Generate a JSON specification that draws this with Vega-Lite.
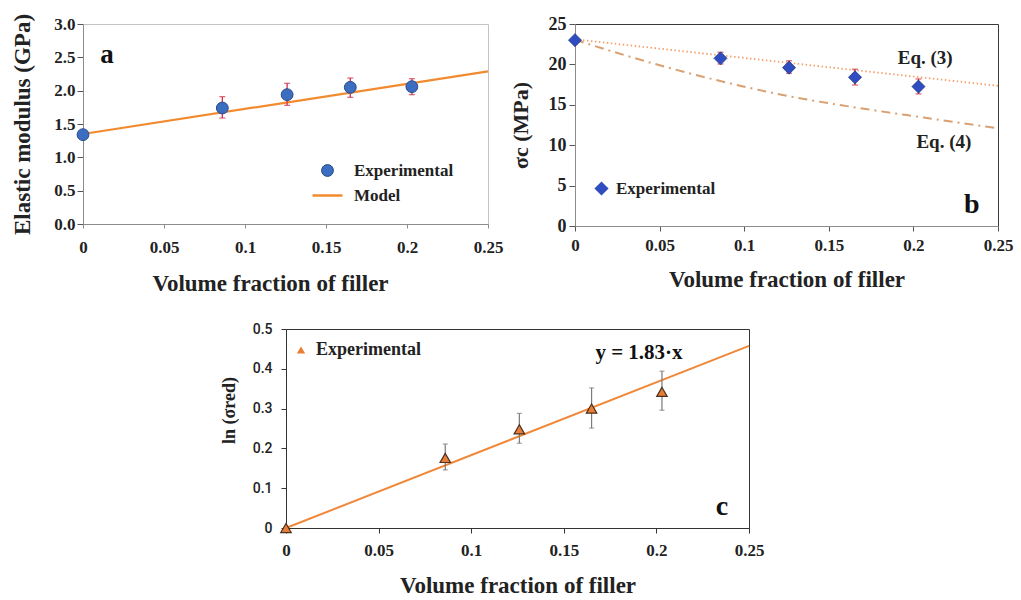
{
  "$schema": "https://vega.github.io/schema/vega-lite/v6.json",
  "background": "white",
  "padding": {"left": 11, "top": 10, "right": 0, "bottom": 0},
  "config": {
    "font": "Liberation Serif",
    "axis": {"grid": false, "labelFont": "Liberation Serif", "labelFontWeight": "bold", "labelColor": "#222", "titleFont": "Liberation Serif", "titleFontWeight": "bold", "titleColor": "#222", "labelFlush": false, "labelOverlap": false, "labelBound": false},
    "legend": {"labelFont": "Liberation Serif", "labelFontWeight": "bold", "labelColor": "#222", "title": null}
  },
  "spacing": 305,
  "bounds": "flush",
  "resolve": {
    "scale": {"shape": "independent", "fill": "independent", "stroke": "independent", "size": "independent", "strokeWidth": "independent", "color": "independent"},
    "legend": {"shape": "independent", "fill": "independent", "stroke": "independent", "size": "independent", "strokeWidth": "independent", "color": "independent"}
  },
  "vconcat": [
    {
      "spacing": 87,
      "bounds": "flush",
      "resolve": {
        "scale": {"shape": "independent", "fill": "independent", "stroke": "independent", "size": "independent", "strokeWidth": "independent", "color": "independent"},
        "legend": {"shape": "independent", "fill": "independent", "stroke": "independent", "size": "independent", "strokeWidth": "independent", "color": "independent"}
      },
      "hconcat": [
        {
          "width": 405,
          "height": 200,
          "view": {"stroke": "#c4c4c4"},
          "layer": [
            {
              "data": {"values": [{"x": 0, "y": 1.35}, {"x": 0.25, "y": 2.29}]},
              "mark": {"type": "line", "color": "#f28a30", "strokeWidth": 2.2},
              "encoding": {
                "x": {"field": "x", "type": "quantitative", "scale": {"domain": [0, 0.25], "nice": false},
                  "axis": {"title": "Volume fraction of filler", "titleX": 187, "values": [0, 0.05, 0.1, 0.15, 0.2, 0.25], "format": "~g", "domainColor": "#8c8c8c", "tickColor": "#8c8c8c", "tickSize": 4, "labelFontSize": 17, "labelPadding": 11, "titleFontSize": 23, "titlePadding": 17}},
                "y": {"field": "y", "type": "quantitative", "scale": {"domain": [0, 3], "nice": false},
                  "axis": {"title": "Elastic  modulus (GPa)", "values": [0, 0.5, 1, 1.5, 2, 2.5, 3], "format": ".1f", "domainColor": "#8c8c8c", "tickColor": "#555", "tickSize": 6, "labelFontSize": 17, "labelPadding": 2, "titleFontSize": 23, "titlePadding": 19}}
              }
            },
            {
              "data": {"values": [
                {"x": 0, "lo": 1.30, "hi": 1.38},
                {"x": 0.086, "lo": 1.59, "hi": 1.91},
                {"x": 0.126, "lo": 1.78, "hi": 2.11},
                {"x": 0.165, "lo": 1.90, "hi": 2.19},
                {"x": 0.203, "lo": 1.94, "hi": 2.18}
              ]},
              "mark": {"type": "errorbar", "ticks": {"size": 6}, "color": "#d0304a", "thickness": 1.3},
              "encoding": {
                "x": {"field": "x", "type": "quantitative",
                  "axis": {"title": "Volume fraction of filler", "titleX": 187, "values": [0, 0.05, 0.1, 0.15, 0.2, 0.25], "format": "~g", "domainColor": "#8c8c8c", "tickColor": "#8c8c8c", "tickSize": 4, "labelFontSize": 17, "labelPadding": 11, "titleFontSize": 23, "titlePadding": 17}},
                "y": {"field": "lo", "type": "quantitative",
                  "axis": {"title": "Elastic  modulus (GPa)", "values": [0, 0.5, 1, 1.5, 2, 2.5, 3], "format": ".1f", "domainColor": "#8c8c8c", "tickColor": "#555", "tickSize": 6, "labelFontSize": 17, "labelPadding": 2, "titleFontSize": 23, "titlePadding": 19}},
                "y2": {"field": "hi"}
              }
            },
            {
              "data": {"values": [
                {"x": 0, "y": 1.34, "series": "Experimental"},
                {"x": 0.086, "y": 1.74, "series": "Experimental"},
                {"x": 0.126, "y": 1.94, "series": "Experimental"},
                {"x": 0.165, "y": 2.05, "series": "Experimental"},
                {"x": 0.203, "y": 2.06, "series": "Experimental"}
              ]},
              "mark": {"type": "point", "filled": true, "opacity": 1},
              "encoding": {
                "x": {"field": "x", "type": "quantitative",
                  "axis": {"title": "Volume fraction of filler", "titleX": 187, "values": [0, 0.05, 0.1, 0.15, 0.2, 0.25], "format": "~g", "domainColor": "#8c8c8c", "tickColor": "#8c8c8c", "tickSize": 4, "labelFontSize": 17, "labelPadding": 11, "titleFontSize": 23, "titlePadding": 17}},
                "y": {"field": "y", "type": "quantitative",
                  "axis": {"title": "Elastic  modulus (GPa)", "values": [0, 0.5, 1, 1.5, 2, 2.5, 3], "format": ".1f", "domainColor": "#8c8c8c", "tickColor": "#555", "tickSize": 6, "labelFontSize": 17, "labelPadding": 2, "titleFontSize": 23, "titlePadding": 19}},
                "shape": {"field": "series", "type": "nominal",
                  "scale": {"domain": ["Experimental", "Model"], "range": ["circle", "stroke"]},
                  "legend": {"orient": "none", "legendX": 228, "legendY": 138, "labelFontSize": 17, "rowPadding": 0, "labelOffset": 10}},
                "fill": {"field": "series", "type": "nominal",
                  "scale": {"domain": ["Experimental", "Model"], "range": ["#3b6dc0", "#f28a30"]},
                  "legend": {"orient": "none", "legendX": 228, "legendY": 138, "labelFontSize": 17, "rowPadding": 0, "labelOffset": 10}},
                "stroke": {"field": "series", "type": "nominal",
                  "scale": {"domain": ["Experimental", "Model"], "range": ["#2b4a8a", "#f28a30"]},
                  "legend": {"orient": "none", "legendX": 228, "legendY": 138, "labelFontSize": 17, "rowPadding": 0, "labelOffset": 10}},
                "size": {"field": "series", "type": "ordinal",
                  "scale": {"domain": ["Experimental", "Model"], "range": [140, 900]},
                  "legend": {"orient": "none", "legendX": 228, "legendY": 138, "labelFontSize": 17, "rowPadding": 0, "labelOffset": 10}},
                "strokeWidth": {"field": "series", "type": "ordinal",
                  "scale": {"domain": ["Experimental", "Model"], "range": [1, 2.5]},
                  "legend": {"orient": "none", "legendX": 228, "legendY": 138, "labelFontSize": 17, "rowPadding": 0, "labelOffset": 10}}
              }
            },
            {
              "data": {"values": [{"x": 0.0148, "y": 2.53, "label": "a"}]},
              "mark": {"type": "text", "fontSize": 27, "fontWeight": "bold", "font": "Liberation Serif", "color": "#111"},
              "encoding": {
                "x": {"field": "x", "type": "quantitative",
                  "axis": {"title": "Volume fraction of filler", "titleX": 187, "values": [0, 0.05, 0.1, 0.15, 0.2, 0.25], "format": "~g", "domainColor": "#8c8c8c", "tickColor": "#8c8c8c", "tickSize": 4, "labelFontSize": 17, "labelPadding": 11, "titleFontSize": 23, "titlePadding": 17}},
                "y": {"field": "y", "type": "quantitative",
                  "axis": {"title": "Elastic  modulus (GPa)", "values": [0, 0.5, 1, 1.5, 2, 2.5, 3], "format": ".1f", "domainColor": "#8c8c8c", "tickColor": "#555", "tickSize": 6, "labelFontSize": 17, "labelPadding": 2, "titleFontSize": 23, "titlePadding": 19}},
                "text": {"field": "label"}
              }
            }
          ]
        },
        {
          "width": 423,
          "height": 202,
          "view": {"stroke": "#3a3a3a"},
          "layer": [
            {
              "data": {"values": [{"x": 0, "y": 23.1}, {"x": 0.25, "y": 17.35}]},
              "mark": {"type": "line", "color": "#f4a070", "strokeWidth": 1.8, "strokeDash": [1.5, 2.5]},
              "encoding": {
                "x": {"field": "x", "type": "quantitative", "scale": {"domain": [0, 0.25], "nice": false},
                  "axis": {"title": "Volume fraction of filler", "values": [0, 0.05, 0.1, 0.15, 0.2, 0.25], "format": "~g", "domainColor": "#8c8c8c", "tickColor": "#555", "tickSize": 5, "labelFontSize": 17, "labelPadding": 6, "titleFontSize": 23, "titlePadding": 15}},
                "y": {"field": "y", "type": "quantitative", "scale": {"domain": [0, 25], "nice": false},
                  "axis": {"title": "σc (MPa)", "values": [0, 5, 10, 15, 20, 25], "domainColor": "#8c8c8c", "tickColor": "#555", "tickSize": 6, "labelFontSize": 18, "labelPadding": 3, "titleFontSize": 22, "titlePadding": 16}}
              }
            },
            {
              "data": {"values": [
                {"x": 0, "y": 23.05}, {"x": 0.03, "y": 21.1}, {"x": 0.077, "y": 18.4},
                {"x": 0.128, "y": 16.0}, {"x": 0.168, "y": 14.6}, {"x": 0.207, "y": 13.4}, {"x": 0.25, "y": 12.1}
              ]},
              "mark": {"type": "line", "color": "#d9a071", "strokeWidth": 2, "strokeDash": [9, 5, 2, 5], "interpolate": "monotone"},
              "encoding": {
                "x": {"field": "x", "type": "quantitative",
                  "axis": {"title": "Volume fraction of filler", "values": [0, 0.05, 0.1, 0.15, 0.2, 0.25], "format": "~g", "domainColor": "#8c8c8c", "tickColor": "#555", "tickSize": 5, "labelFontSize": 17, "labelPadding": 6, "titleFontSize": 23, "titlePadding": 15}},
                "y": {"field": "y", "type": "quantitative",
                  "axis": {"title": "σc (MPa)", "values": [0, 5, 10, 15, 20, 25], "domainColor": "#8c8c8c", "tickColor": "#555", "tickSize": 6, "labelFontSize": 18, "labelPadding": 3, "titleFontSize": 22, "titlePadding": 16}}
              }
            },
            {
              "data": {"values": [
                {"x": 0, "lo": 22.8, "hi": 23.2},
                {"x": 0.086, "lo": 20.05, "hi": 21.5},
                {"x": 0.1265, "lo": 18.9, "hi": 20.45},
                {"x": 0.1655, "lo": 17.45, "hi": 19.4},
                {"x": 0.203, "lo": 16.35, "hi": 18.2}
              ]},
              "mark": {"type": "errorbar", "ticks": {"size": 6}, "color": "#c83040", "thickness": 1.3},
              "encoding": {
                "x": {"field": "x", "type": "quantitative",
                  "axis": {"title": "Volume fraction of filler", "values": [0, 0.05, 0.1, 0.15, 0.2, 0.25], "format": "~g", "domainColor": "#8c8c8c", "tickColor": "#555", "tickSize": 5, "labelFontSize": 17, "labelPadding": 6, "titleFontSize": 23, "titlePadding": 15}},
                "y": {"field": "lo", "type": "quantitative",
                  "axis": {"title": "σc (MPa)", "values": [0, 5, 10, 15, 20, 25], "domainColor": "#8c8c8c", "tickColor": "#555", "tickSize": 6, "labelFontSize": 18, "labelPadding": 3, "titleFontSize": 22, "titlePadding": 16}},
                "y2": {"field": "hi"}
              }
            },
            {
              "data": {"values": [
                {"x": 0, "y": 23.0, "series": "Experimental"},
                {"x": 0.086, "y": 20.75, "series": "Experimental"},
                {"x": 0.1265, "y": 19.6, "series": "Experimental"},
                {"x": 0.1655, "y": 18.4, "series": "Experimental"},
                {"x": 0.203, "y": 17.25, "series": "Experimental"}
              ]},
              "mark": {"type": "point", "filled": true, "fill": "#2f4cc0", "stroke": "#23397f", "strokeWidth": 0.8, "size": 170, "opacity": 1},
              "encoding": {
                "x": {"field": "x", "type": "quantitative",
                  "axis": {"title": "Volume fraction of filler", "values": [0, 0.05, 0.1, 0.15, 0.2, 0.25], "format": "~g", "domainColor": "#8c8c8c", "tickColor": "#555", "tickSize": 5, "labelFontSize": 17, "labelPadding": 6, "titleFontSize": 23, "titlePadding": 15}},
                "y": {"field": "y", "type": "quantitative",
                  "axis": {"title": "σc (MPa)", "values": [0, 5, 10, 15, 20, 25], "domainColor": "#8c8c8c", "tickColor": "#555", "tickSize": 6, "labelFontSize": 18, "labelPadding": 3, "titleFontSize": 22, "titlePadding": 16}},
                "shape": {"field": "series", "type": "nominal",
                  "scale": {"domain": ["Experimental"], "range": ["diamond"]},
                  "legend": {"orient": "none", "legendX": 18, "legendY": 156, "labelFontSize": 17, "labelOffset": 6, "symbolSize": 200, "symbolFillColor": "#2f4cc0", "symbolStrokeColor": "#23397f"}
                }
              }
            },
            {
              "data": {"values": [
                {"x": 0.207, "y": 20.85, "label": "Eq. (3)"},
                {"x": 0.218, "y": 10.45, "label": "Eq. (4)"}
              ]},
              "mark": {"type": "text", "fontSize": 19, "fontWeight": "bold", "font": "Liberation Serif", "color": "#222"},
              "encoding": {
                "x": {"field": "x", "type": "quantitative",
                  "axis": {"title": "Volume fraction of filler", "values": [0, 0.05, 0.1, 0.15, 0.2, 0.25], "format": "~g", "domainColor": "#8c8c8c", "tickColor": "#555", "tickSize": 5, "labelFontSize": 17, "labelPadding": 6, "titleFontSize": 23, "titlePadding": 15}},
                "y": {"field": "y", "type": "quantitative",
                  "axis": {"title": "σc (MPa)", "values": [0, 5, 10, 15, 20, 25], "domainColor": "#8c8c8c", "tickColor": "#555", "tickSize": 6, "labelFontSize": 18, "labelPadding": 3, "titleFontSize": 22, "titlePadding": 16}},
                "text": {"field": "label"}
              }
            },
            {
              "data": {"values": [{"x": 0.2345, "y": 2.6, "label": "b"}]},
              "mark": {"type": "text", "fontSize": 28, "fontWeight": "bold", "font": "Liberation Serif", "color": "#111"},
              "encoding": {
                "x": {"field": "x", "type": "quantitative",
                  "axis": {"title": "Volume fraction of filler", "values": [0, 0.05, 0.1, 0.15, 0.2, 0.25], "format": "~g", "domainColor": "#8c8c8c", "tickColor": "#555", "tickSize": 5, "labelFontSize": 17, "labelPadding": 6, "titleFontSize": 23, "titlePadding": 15}},
                "y": {"field": "y", "type": "quantitative",
                  "axis": {"title": "σc (MPa)", "values": [0, 5, 10, 15, 20, 25], "domainColor": "#8c8c8c", "tickColor": "#555", "tickSize": 6, "labelFontSize": 18, "labelPadding": 3, "titleFontSize": 22, "titlePadding": 16}},
                "text": {"field": "label"}
              }
            }
          ]
        }
      ]
    },
    {
      "spacing": 202,
      "bounds": "flush",
      "resolve": {
        "scale": {"shape": "independent", "fill": "independent", "stroke": "independent", "size": "independent", "strokeWidth": "independent", "color": "independent"},
        "legend": {"shape": "independent", "fill": "independent", "stroke": "independent", "size": "independent", "strokeWidth": "independent", "color": "independent"}
      },
      "hconcat": [
        {
          "width": 1,
          "height": 1,
          "view": {"stroke": null},
          "data": {"values": [{"s": ""}]},
          "mark": {"type": "text"},
          "encoding": {"text": {"field": "s"}}
        },
        {
          "width": 463,
          "height": 199,
          "view": {"stroke": "#333333"},
          "layer": [
            {
              "data": {"values": [{"x": 0, "y": 0}, {"x": 0.25, "y": 0.4575}]},
              "mark": {"type": "line", "color": "#f0883a", "strokeWidth": 2},
              "encoding": {
                "x": {"field": "x", "type": "quantitative", "scale": {"domain": [0, 0.25], "nice": false},
                  "axis": {"title": "Volume fraction of filler", "values": [0, 0.05, 0.1, 0.15, 0.2, 0.25], "format": "~g", "domainColor": "#333", "tickColor": "#333", "tickSize": 5, "labelFontSize": 17, "labelPadding": 9, "titleFontSize": 23, "titlePadding": 16}},
                "y": {"field": "y", "type": "quantitative", "scale": {"domain": [0, 0.5], "nice": false},
                  "axis": {"title": "ln (σred)", "titleY": 81, "values": [0, 0.1, 0.2, 0.3, 0.4, 0.5], "format": "~g", "domainColor": "#333", "tickColor": "#333", "tickSize": 5, "labelFont": "Roboto", "labelFontWeight": 500, "labelFontSize": 14, "labelPadding": 9, "titleFontSize": 18, "titlePadding": 14}}
              }
            },
            {
              "data": {"values": [
                {"x": 0.086, "lo": 0.146, "hi": 0.211},
                {"x": 0.126, "lo": 0.213, "hi": 0.288},
                {"x": 0.165, "lo": 0.251, "hi": 0.352},
                {"x": 0.203, "lo": 0.296, "hi": 0.394}
              ]},
              "mark": {"type": "errorbar", "ticks": {"size": 5}, "color": "#7a7a7a", "thickness": 1.2},
              "encoding": {
                "x": {"field": "x", "type": "quantitative",
                  "axis": {"title": "Volume fraction of filler", "values": [0, 0.05, 0.1, 0.15, 0.2, 0.25], "format": "~g", "domainColor": "#333", "tickColor": "#333", "tickSize": 5, "labelFontSize": 17, "labelPadding": 9, "titleFontSize": 23, "titlePadding": 16}},
                "y": {"field": "lo", "type": "quantitative",
                  "axis": {"title": "ln (σred)", "titleY": 81, "values": [0, 0.1, 0.2, 0.3, 0.4, 0.5], "format": "~g", "domainColor": "#333", "tickColor": "#333", "tickSize": 5, "labelFont": "Roboto", "labelFontWeight": 500, "labelFontSize": 14, "labelPadding": 9, "titleFontSize": 18, "titlePadding": 14}},
                "y2": {"field": "hi"}
              }
            },
            {
              "data": {"values": [
                {"x": 0, "y": 0, "series": "Experimental"},
                {"x": 0.086, "y": 0.176, "series": "Experimental"},
                {"x": 0.126, "y": 0.248, "series": "Experimental"},
                {"x": 0.165, "y": 0.300, "series": "Experimental"},
                {"x": 0.203, "y": 0.342, "series": "Experimental"}
              ]},
              "mark": {"type": "point", "filled": true, "fill": "#e87e35", "stroke": "#4a3020", "strokeWidth": 1.2, "size": 110, "opacity": 1},
              "encoding": {
                "x": {"field": "x", "type": "quantitative",
                  "axis": {"title": "Volume fraction of filler", "values": [0, 0.05, 0.1, 0.15, 0.2, 0.25], "format": "~g", "domainColor": "#333", "tickColor": "#333", "tickSize": 5, "labelFontSize": 17, "labelPadding": 9, "titleFontSize": 23, "titlePadding": 16}},
                "y": {"field": "y", "type": "quantitative",
                  "axis": {"title": "ln (σred)", "titleY": 81, "values": [0, 0.1, 0.2, 0.3, 0.4, 0.5], "format": "~g", "domainColor": "#333", "tickColor": "#333", "tickSize": 5, "labelFont": "Roboto", "labelFontWeight": 500, "labelFontSize": 14, "labelPadding": 9, "titleFontSize": 18, "titlePadding": 14}},
                "shape": {"field": "series", "type": "nominal",
                  "scale": {"domain": ["Experimental"], "range": ["triangle-up"]},
                  "legend": {"orient": "none", "legendX": 6, "legendY": 12, "labelFontSize": 18, "labelOffset": 6, "symbolSize": 70, "symbolFillColor": "#e87e35", "symbolStrokeColor": "#4a3020"}
                }
              }
            },
            {
              "data": {"values": [{"x": 0.1906, "y": 0.44, "label": "y = 1.83·x"}]},
              "mark": {"type": "text", "fontSize": 21, "fontWeight": "bold", "font": "Liberation Serif", "color": "#111"},
              "encoding": {
                "x": {"field": "x", "type": "quantitative",
                  "axis": {"title": "Volume fraction of filler", "values": [0, 0.05, 0.1, 0.15, 0.2, 0.25], "format": "~g", "domainColor": "#333", "tickColor": "#333", "tickSize": 5, "labelFontSize": 17, "labelPadding": 9, "titleFontSize": 23, "titlePadding": 16}},
                "y": {"field": "y", "type": "quantitative",
                  "axis": {"title": "ln (σred)", "titleY": 81, "values": [0, 0.1, 0.2, 0.3, 0.4, 0.5], "format": "~g", "domainColor": "#333", "tickColor": "#333", "tickSize": 5, "labelFont": "Roboto", "labelFontWeight": 500, "labelFontSize": 14, "labelPadding": 9, "titleFontSize": 18, "titlePadding": 14}},
                "text": {"field": "label"}
              }
            },
            {
              "data": {"values": [{"x": 0.2354, "y": 0.052, "label": "c"}]},
              "mark": {"type": "text", "fontSize": 28, "fontWeight": "bold", "font": "Liberation Serif", "color": "#111"},
              "encoding": {
                "x": {"field": "x", "type": "quantitative",
                  "axis": {"title": "Volume fraction of filler", "values": [0, 0.05, 0.1, 0.15, 0.2, 0.25], "format": "~g", "domainColor": "#333", "tickColor": "#333", "tickSize": 5, "labelFontSize": 17, "labelPadding": 9, "titleFontSize": 23, "titlePadding": 16}},
                "y": {"field": "y", "type": "quantitative",
                  "axis": {"title": "ln (σred)", "titleY": 81, "values": [0, 0.1, 0.2, 0.3, 0.4, 0.5], "format": "~g", "domainColor": "#333", "tickColor": "#333", "tickSize": 5, "labelFont": "Roboto", "labelFontWeight": 500, "labelFontSize": 14, "labelPadding": 9, "titleFontSize": 18, "titlePadding": 14}},
                "text": {"field": "label"}
              }
            }
          ]
        }
      ]
    }
  ]
}
